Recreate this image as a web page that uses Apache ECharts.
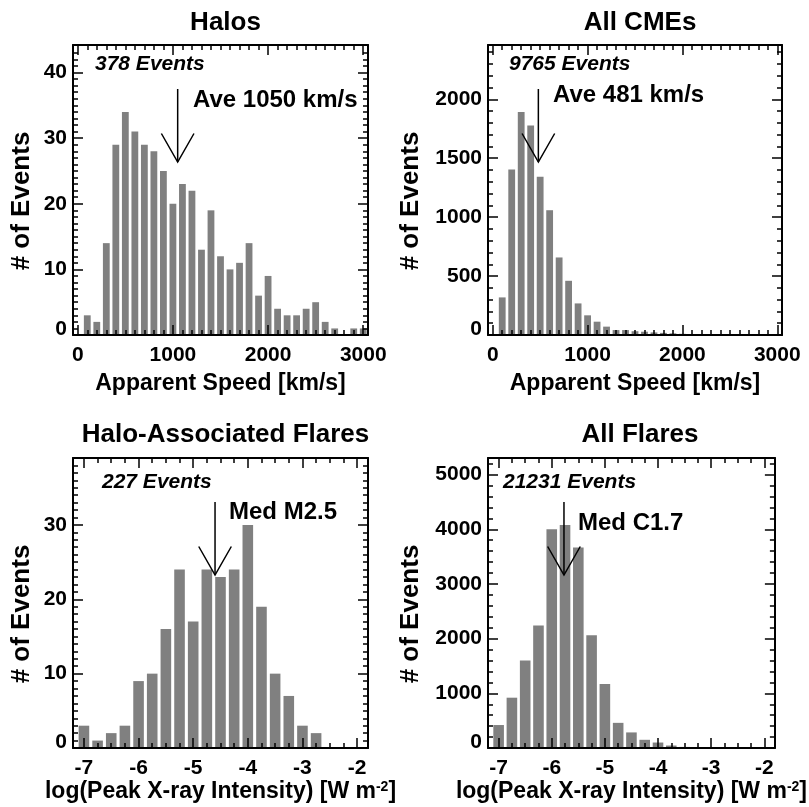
<!DOCTYPE html>
<html><head><meta charset="utf-8">
<script src="https://cdn.jsdelivr.net/npm/echarts@6/dist/echarts.min.js"></script>
<style>html,body{margin:0;padding:0;background:#fff}#c{width:809px;height:807px}</style>
</head><body><div id="c"></div>
<script>
// ---------------- data ----------------
const speedBins = [100,200,300,400,500,600,700,800,900,1000,1100,1200,1300,1400,1500,1600,1700,1800,1900,2000,2100,2200,2300,2400,2500,2600,2700,2800,2900,3000];
const haloSpeedCounts = [3,2,14,29,34,31,29,28,25,20,23,22,13,19,12,10,11,14,6,9,4,3,3,4,5,2,1,0,1,1];
const cmeSpeedCounts = [319,1404,1893,1777,1342,1059,658,460,268,167,113,71,42,42,32,28,22,18,14,10,8,6,4,3,2,2,1,1,1,1];
const flareBins = [-7,-6.75,-6.5,-6.25,-6,-5.75,-5.5,-5.25,-5,-4.75,-4.5,-4.25,-4,-3.75,-3.5,-3.25,-3,-2.75,-2.5,-2.25,-2];
const haloFlareCounts = [3,1,2,3,9,10,16,24,17,24,23,24,30,19,10,7,3,2,0,0,0];
const allFlareCounts = [420,920,1600,2242,4000,4079,3666,2060,1170,460,285,150,100,45,20,8,3,1,0,0,0];

const speedTickLabels = [0,1000,2000,3000];
const flareTickLabels = [-7,-6,-5,-4,-3,-2];
const haloYTicks = [0,10,20,30,40];
const cmeYTicks = [0,500,1000,1500,2000];
const haloFlareYTicks = [0,10,20,30];
const allFlareYTicks = [0,1000,2000,3000,4000,5000];

const panelTitles = ['Halos','All CMEs','Halo-Associated Flares','All Flares'];
const eventTexts = ['378 Events','9765 Events','227 Events','21231 Events'];
const statTexts = ['Ave 1050 km/s','Ave 481 km/s','Med M2.5','Med C1.7'];
const statValues = [1050, 481, -4.60, -5.77];
const speedAxisName = 'Apparent Speed [km/s]';
const yAxisName = '# of Events';

// ---------------- layout / style ----------------
const FF = '"Liberation Sans", Arial, Helvetica, sans-serif';
const grids = [
  {left:73, top:45, width:295, height:290},
  {left:488, top:45, width:294, height:290},
  {left:73, top:458, width:295, height:290},
  {left:488, top:458, width:294, height:290}
];
const lineStyle = {color:'#000', width:2};
const tickStyle = {color:'#000', width:1.5};

function minorValues(lo, hi, step){ const out=[]; for(let v=lo; v<=hi+1e-9; v+=step) out.push(Math.round(v*1000)/1000); return out; }

function makeX(g, min, max, majors, minors, nameOpt){
  const base = {type:'value', gridIndex:g, min, max, z:5, splitLine:{show:false}};
  return [
    Object.assign({}, base, {position:'bottom',
      name: nameOpt.name, nameLocation:'middle', nameGap: nameOpt.gap,
      nameTextStyle:{fontFamily:FF, fontWeight:'bold', fontSize:23, color:'#000', rich: nameOpt.rich},
      axisLine:{onZero:false, lineStyle},
      axisTick:{inside:true, length:10, lineStyle:tickStyle, customValues:majors},
      axisLabel:{customValues:majors, margin:10, color:'#000', fontSize:21, fontWeight:'bold', fontFamily:FF,
        formatter: v => String(v)}}),
    Object.assign({}, base, {position:'bottom', axisLine:{show:false, onZero:false},
      axisTick:{inside:true, length:5, lineStyle:tickStyle, customValues:minors}, axisLabel:{show:false}}),
    Object.assign({}, base, {position:'top', axisLine:{onZero:false, lineStyle},
      axisTick:{inside:true, length:10, lineStyle:tickStyle, customValues:majors}, axisLabel:{show:false}}),
    Object.assign({}, base, {position:'top', axisLine:{show:false, onZero:false},
      axisTick:{inside:true, length:5, lineStyle:tickStyle, customValues:minors}, axisLabel:{show:false}})
  ];
}
function makeY(g, max, majors, minors, gap){
  const base = {type:'value', gridIndex:g, min:0, max, z:5, splitLine:{show:false}};
  return [
    Object.assign({}, base, {position:'left',
      name: yAxisName, nameLocation:'middle', nameGap: gap, nameRotate:90,
      nameTextStyle:{fontFamily:FF, fontWeight:'bold', fontSize:26, color:'#000', padding:[0,22,0,0]},
      axisLine:{onZero:false, lineStyle},
      axisTick:{inside:true, length:10, lineStyle:tickStyle, customValues:majors},
      axisLabel:{customValues:majors, margin:6, color:'#000', fontSize:21, fontWeight:'bold', fontFamily:FF,
        formatter: v => v === 0 ? '{z|0}' : String(v),
        rich:{z:{padding:[0,0,12,0], fontSize:21, fontWeight:'bold', color:'#000', fontFamily:FF}}}}),
    Object.assign({}, base, {position:'left', axisLine:{show:false, onZero:false},
      axisTick:{inside:true, length:5, lineStyle:tickStyle, customValues:minors}, axisLabel:{show:false}}),
    Object.assign({}, base, {position:'right', axisLine:{onZero:false, lineStyle},
      axisTick:{inside:true, length:10, lineStyle:tickStyle, customValues:majors}, axisLabel:{show:false}}),
    Object.assign({}, base, {position:'right', axisLine:{show:false, onZero:false},
      axisTick:{inside:true, length:5, lineStyle:tickStyle, customValues:minors}, axisLabel:{show:false}})
  ];
}

const flareName = {name:'log(Peak X-ray Intensity) [W m{sup|-2}]', gap:31,
  rich:{sup:{fontSize:14, fontWeight:'bold', fontFamily:FF, color:'#000', verticalAlign:'top', padding:[0,0,10,0]}}};
const speedName = {name:speedAxisName, gap:37};

const xAxis = [].concat(
  makeX(0, -50, 3050, speedTickLabels, minorValues(100,2900,100), speedName),
  makeX(1, -50, 3050, speedTickLabels, minorValues(100,2900,100), speedName),
  makeX(2, -7.2, -1.8, flareTickLabels, minorValues(-6.75,-2.25,0.25), flareName),
  makeX(3, -7.2, -1.8, flareTickLabels, minorValues(-6.75,-2.25,0.25), flareName)
);
const yAxis = [].concat(
  makeY(0, 44.2, haloYTicks, minorValues(1,43,1), 38),
  makeY(1, 2461, cmeYTicks, minorValues(100,2400,100), 64),
  makeY(2, 39, haloFlareYTicks, minorValues(1,38,1), 38),
  makeY(3, 5303, allFlareYTicks, minorValues(200,5200,200), 64)
);

const histData = [
  [speedBins, haloSpeedCounts, 6.8],
  [speedBins, cmeSpeedCounts, 6.8],
  [flareBins, haloFlareCounts, 10.6],
  [flareBins, allFlareCounts, 10.6]
];

const series = [];
histData.forEach((h, g) => {
  series.push({type:'bar', xAxisIndex:4*g, yAxisIndex:4*g, barWidth:h[2], z:2,
    itemStyle:{color:'#808080'}, silent:true, animation:false,
    data: h[0].map((b, i) => [b, h[1][i]])});
  series.push({type:'custom', xAxisIndex:4*g, yAxisIndex:4*g, z:10, silent:true, animation:false,
    data:[[statValues[g], 0]],
    renderItem(params, api){
      const cs = params.coordSys;
      const x = api.coord([api.value(0), 0])[0];
      const top = cs.y + 44, tip = cs.y + 117, head = cs.y + 88.5, dx = 16.3;
      return {type:'group', children:[
        {type:'line', shape:{x1:x, y1:top, x2:x, y2:tip}, style:{stroke:'#000', lineWidth:1.5}},
        {type:'polyline', shape:{points:[[x-dx, head],[x, tip],[x+dx, head]]}, style:{stroke:'#000', lineWidth:1.5, fill:null}}
      ]};
    }});
});

const titles = panelTitles.map((t, g) => ({
  text:t, left: grids[g].left + grids[g].width/2, top: g < 2 ? 5 : 417, textAlign:'center',
  textStyle:{fontFamily:FF, fontWeight:'bold', fontSize:26, color:'#000'}
}));

const evPos = [[95,64],[509,64],[102,482],[503,482]];
const stPos = [[193,100],[553,95],[229,512],[578,523]];
const graphic = [];
eventTexts.forEach((t, g) => graphic.push({type:'text', x:evPos[g][0], y:evPos[g][1], z:20,
  style:{text:t, fill:'#000', font:'italic bold 21px ' + FF, verticalAlign:'middle'}}));
statTexts.forEach((t, g) => graphic.push({type:'text', x:stPos[g][0], y:stPos[g][1], z:20,
  style:{text:t, fill:'#000', font:'bold 24px ' + FF, verticalAlign:'middle'}}));

const chart = echarts.init(document.getElementById('c'), null, {renderer:'canvas'});
chart.setOption({
  animation:false,
  backgroundColor:'#fff',
  title: titles,
  grid: grids,
  xAxis, yAxis, series, graphic
});
</script>
</body></html>
